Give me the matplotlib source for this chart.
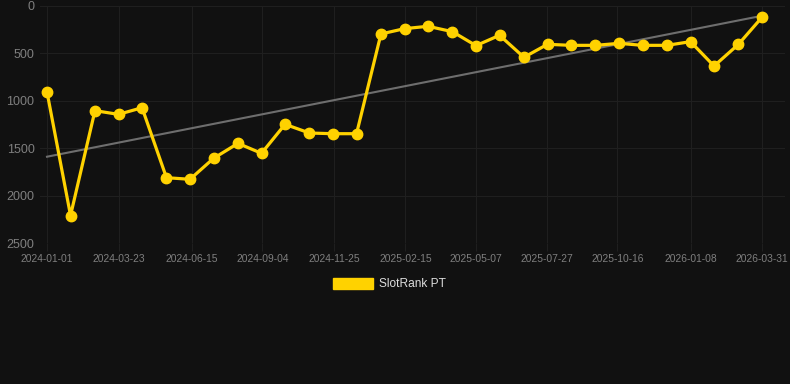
import numpy as np
import pandas as pd
import matplotlib
matplotlib.use("Agg")
import matplotlib.pyplot as plt
import matplotlib.dates as mdates
from matplotlib.patches import Patch

# Données
dates = ["2024-01-01", "2024-01-28", "2024-02-25", "2024-03-23", "2024-04-19",
         "2024-05-17", "2024-06-13", "2024-07-10", "2024-08-07", "2024-09-03",
         "2024-09-30", "2024-10-28", "2024-11-24", "2024-12-21", "2025-01-18",
         "2025-02-14", "2025-03-13", "2025-04-10", "2025-05-07", "2025-06-03",
         "2025-07-01", "2025-07-28", "2025-08-24", "2025-09-21", "2025-10-18",
         "2025-11-14", "2025-12-12", "2026-01-08", "2026-02-04", "2026-03-04",
         "2026-03-31"]
rank = [907, 2210, 1104, 1143, 1073, 1811, 1828, 1607, 1449, 1554,
        1248, 1340, 1347, 1347, 295, 239, 214, 271, 418, 309,
        541, 404, 415, 415, 394, 415, 415, 376, 633, 404, 119]
tick_labels = ["2024-01-01", "2024-03-23", "2024-06-15", "2024-09-04", "2024-11-25",
               "2025-02-15", "2025-05-07", "2025-07-27", "2025-10-16", "2026-01-08",
               "2026-03-31"]
y_ticks = [0, 500, 1000, 1500, 2000, 2500]

bg = "#111111"
grid_col = "#1f1f1f"
yellow = "#FFD200"

x = pd.to_datetime(dates)
xn = mdates.date2num(x)

fig = plt.figure(figsize=(7.9, 3.84), dpi=100, facecolor=bg)
ax = fig.add_axes([40 / 790, 1 - 243 / 384, 745 / 790, 237 / 384])
ax.set_facecolor(bg)

# Tendance linéaire
a, b = np.polyfit(xn, rank, 1)
ax.plot([xn[0], xn[-1]], [a * xn[0] + b, a * xn[-1] + b], color="#6e6e6e", lw=1.5, zorder=2)

ax.plot(xn, rank, color=yellow, lw=2.3, marker="o", ms=7.5, zorder=3)

span = xn[-1] - xn[0]
ax.set_xlim(xn[0] - span * 7 / 715, xn[-1] + span * 23 / 715)
ax.set_ylim(2500, 0)

tick_pos = mdates.date2num(pd.to_datetime(tick_labels))
ax.set_xticks(tick_pos)
ax.set_xticklabels(tick_labels)
ax.set_yticks(y_ticks)

for s in ax.spines.values():
    s.set_visible(False)
ax.grid(True, color=grid_col, lw=0.8)
ax.tick_params(axis="x", colors=grid_col, length=6, width=0.8, pad=2,
               labelcolor="#7f7f7f", labelsize=7.4)
ax.tick_params(axis="y", length=0, pad=4, labelcolor="#7f7f7f", labelsize=9)
for lab in ax.get_xticklabels() + ax.get_yticklabels():
    lab.set_family("Liberation Sans")

leg = fig.legend(handles=[Patch(facecolor=yellow, edgecolor=yellow, label="SlotRank PT")],
                 loc="center", bbox_to_anchor=(389 / 790, 1 - 284 / 384), frameon=False,
                 handlelength=3.4, handleheight=1.1, handletextpad=0.45,
                 prop={"family": "Liberation Sans", "size": 8.6})
for t in leg.get_texts():
    t.set_color("#dddddd")

fig.savefig("out.png", dpi=100, facecolor=bg)
